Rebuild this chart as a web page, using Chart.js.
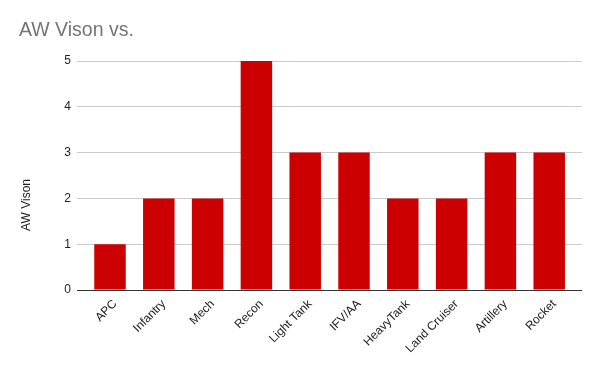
<!DOCTYPE html>
<html>
<head>
<meta charset="utf-8">
<script src="https://cdn.jsdelivr.net/npm/chart.js@4.4.1/dist/chart.umd.min.js"></script>
<style>
html,body{margin:0;padding:0;background:#fff;}
#wrap{width:600px;height:371px;position:relative;}
</style>
</head>
<body>
<div id="wrap"><canvas id="c" width="600" height="371"></canvas></div>
<script>
const categories = ['APC','Infantry','Mech','Recon','Light Tank','IFV/AA','HeavyTank','Land Cruiser','Artillery','Rocket'];
const visionValues = [1,2,2,5,3,3,2,2,3,3];
const yTickValues = [0,1,2,3,4,5];
const chartTitle = 'AW Vison vs.';
const yAxisTitle = 'AW Vison';

const FONT = "'Liberation Sans', Arial, sans-serif";
const gridColor = (ctx) => (ctx.tick && ctx.tick.value === 0) ? '#333333' : '#cccccc';

const yTitlePlugin = {
  id: 'yTitle',
  afterDraw(chart) {
    const c = chart.ctx;
    c.save();
    c.fillStyle = '#222222';
    c.font = "12px " + FONT;
    c.textAlign = 'center';
    c.textBaseline = 'middle';
    c.translate(27, 205);
    c.rotate(-Math.PI / 2);
    c.fillText(yAxisTitle, 0, 0);
    c.restore();
  }
};

new Chart(document.getElementById('c'), {
  type: 'bar',
  data: {
    labels: categories,
    datasets: [{
      label: yAxisTitle,
      data: visionValues,
      backgroundColor: '#cc0000',
      borderWidth: 0,
      categoryPercentage: 1.0,
      barPercentage: 0.645
    }]
  },
  options: {
    responsive: false,
    animation: false,
    devicePixelRatio: 1,
    layout: { padding: { left: 19, right: 0, top: 0, bottom: 0 } },
    plugins: {
      legend: { display: false },
      tooltip: { enabled: false },
      title: {
        display: true,
        text: chartTitle,
        align: 'start',
        color: '#757575',
        font: { family: FONT, size: 19.5, weight: 'normal', lineHeight: 1.2 },
        padding: { top: 18.5, bottom: 19.1 }
      }
    },
    scales: {
      x: {
        z: 1,
        grid: { display: false },
        border: { display: true, color: '#333333', width: 1 },
        ticks: {
          color: '#222222',
          font: { family: FONT, size: 12 },
          minRotation: 45,
          maxRotation: 45,
          autoSkip: false,
          padding: -1,
          labelOffset: 5
        },
        afterFit(scale) { scale.height = 81; }
      },
      y: {
        min: 0,
        max: 5,
        afterBuildTicks(scale) { scale.ticks = yTickValues.map(v => ({ value: v })); },
        grid: { color: gridColor, lineWidth: 1, drawTicks: true, tickLength: 8.6 },
        border: { display: false },
        ticks: {
          color: '#222222',
          font: { family: FONT, size: 12 },
          padding: 6
        },
        afterFit(scale) { scale.width = 66.6; }
      },
      y2: {
        position: 'right',
        min: 0,
        max: 5,
        afterBuildTicks(scale) { scale.ticks = yTickValues.map(v => ({ value: v })); },
        grid: { color: gridColor, lineWidth: 1, drawOnChartArea: false, drawTicks: true, tickLength: 8.4 },
        border: { display: false },
        ticks: { display: false },
        afterFit(scale) { scale.width = 26.4; }
      }
    }
  },
  plugins: [yTitlePlugin]
});
</script>
</body>
</html>
